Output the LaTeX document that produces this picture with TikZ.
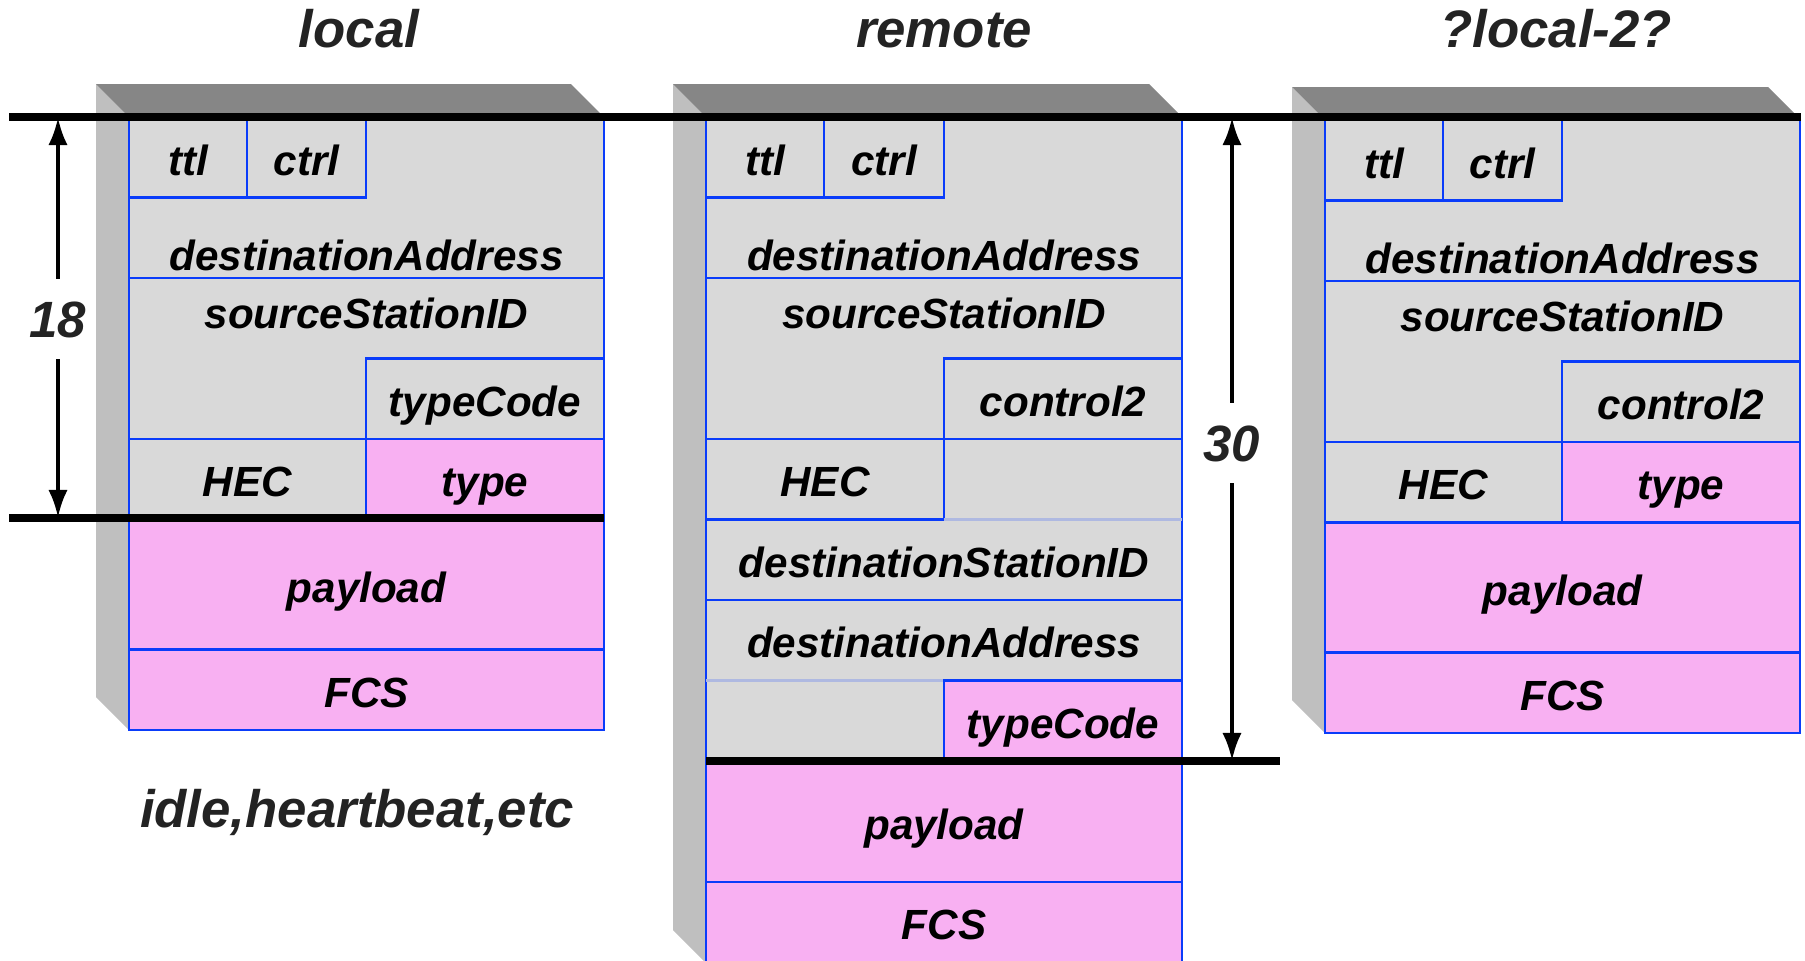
\documentclass[tikz,border=0pt]{standalone}
\usepackage{fontspec}
\setmainfont{Liberation Sans}
\usetikzlibrary{arrows.meta}
\definecolor{cellgray}{RGB}{217,217,217}
\definecolor{cellpink}{RGB}{248,176,242}
\definecolor{edgeblue}{RGB}{10,60,250}
\definecolor{faintblue}{RGB}{175,185,225}
\definecolor{topgray}{RGB}{134,134,134}
\definecolor{sidegray}{RGB}{191,191,191}
\definecolor{inkgray}{RGB}{35,35,35}
\tikzset{
  fld/.style={font=\fontsize{12}{14}\selectfont\bfseries\itshape, text height=8.6pt, text depth=0pt, yshift=-0.8pt},
  hdr/.style={font=\fontsize{15}{18}\selectfont\bfseries\itshape, text=inkgray, text height=10.7pt, text depth=0pt},
  num/.style={font=\fontsize{14.5}{17}\selectfont\bfseries\itshape, text=inkgray, text height=10.4pt, text depth=0pt, minimum height=0.8cm, outer sep=0pt},
  gcell/.style={draw=edgeblue, fill=cellgray, line width=0.7pt},
  pcell/.style={draw=edgeblue, fill=cellpink, line width=0.7pt},
  bl/.style={draw=edgeblue, line width=0.7pt},
  rule/.style={line width=2.2pt},
  dim/.style={line width=1.3pt, ->}
}
\begin{document}
\begin{tikzpicture}[x=0.01cm, y=-0.01cm, >={Latex[length=8pt,width=5.5pt]}]
\useasboundingbox (0,0) rectangle (1805,960);
% 3d frames
\foreach \xa/\xb/\ya/\yb in {129/604/117/730, 706/1182/117/963, 1325/1801/120/733}
{
    \fill[sidegray] (\xa,\ya)--(\xa-33,\ya-33)--(\xa-33,\yb-33)--(\xa,\yb)--cycle;
    \fill[topgray] (\xa,\ya)--(\xa-33,\ya-33)--(\xb-33,\ya-33)--(\xb,\ya)--cycle;
}
% local and ?local-2?
\foreach \sx/\sy/\code/\p in {0/0/typeCode/l, 1196/3/control2/r}
{
\begin{scope}[shift={(\sx,\sy)}]
    \draw[gcell] (129,117) rectangle (604,519.5);
    \draw[gcell] (129,117) rectangle (247,197.5);
    \draw[gcell] (247,117) rectangle (366,197.5);
    \draw[bl] (129,278)--(604,278);
    \draw[gcell] (366,358.5) rectangle (604,439);
    \draw[gcell] (129,439) rectangle (366,519.5);
    \draw[pcell] (366,439) rectangle (604,519.5);
    \draw[pcell] (129,519.5) rectangle (604,649.5);
    \draw[pcell] (129,649.5) rectangle (604,730);
    \node[fld] (\p-ttl) at (188,158) {ttl};
    \node[fld] (\p-ctrl) at (306.5,158) {ctrl};
    \node[fld] (\p-dst) at (366.5,253) {destinationAddress};
    \node[fld] (\p-src) at (366.5,311) {sourceStationID};
    \node[fld] (\p-code) at (485,399) {\code};
    \node[fld] (\p-hec) at (247.5,479) {HEC};
    \node[fld] (\p-type) at (485,479) {type};
    \node[fld] (\p-pay) at (366.5,584.5) {payload};
    \node[fld] (\p-fcs) at (366.5,690) {FCS};
\end{scope}
}
% remote
\draw[gcell] (706,117) rectangle (1182,761);
\draw[gcell] (706,117) rectangle (824,197.5);
\draw[gcell] (824,117) rectangle (944,197.5);
\draw[bl] (706,278)--(1182,278);
\draw[gcell] (944,358.5) rectangle (1182,439);
\draw[gcell] (706,439) rectangle (944,519.5);
\draw[faintblue, line width=0.7pt] (944,519.5)--(1182,519.5);
\draw[bl] (706,600)--(1182,600);
\draw[faintblue, line width=0.7pt] (706,680.5)--(944,680.5);
\draw[pcell] (944,680.5) rectangle (1182,761);
\draw[pcell] (706,761) rectangle (1182,882);
\draw[pcell] (706,882) rectangle (1182,963);
\node[fld] (m-ttl) at (765,158) {ttl};
\node[fld] (m-ctrl) at (884,158) {ctrl};
\node[fld] (m-dst) at (944,253) {destinationAddress};
\node[fld] (m-src) at (944,311) {sourceStationID};
\node[fld] (m-ctl2) at (1063,399) {control2};
\node[fld] (m-hec) at (825,479) {HEC};
\node[fld] (m-dstid) at (944,560) {destinationStationID};
\node[fld] (m-dst2) at (944,640) {destinationAddress};
\node[fld] (m-code) at (1063,721) {typeCode};
\node[fld] (m-pay) at (944,821.5) {payload};
\node[fld] (m-fcs) at (944,922) {FCS};
% titles
\node[hdr] (t-local) at (359,29) {local};
\node[hdr] (t-remote) at (944,29) {remote};
\node[hdr] (t-local2) at (1556,29) {?local-2?};
\node[hdr] (t-idle) at (357,809) {idle,heartbeat,etc};
% header lines
\draw[rule] (9,117)--(1801,117);
\draw[rule] (9,518)--(604,518);
\draw[rule] (706,761)--(1280,761);
% sizes
\coordinate (d18a) at (58,117);
\coordinate (d18b) at (58,518);
\node[num] (n18) at (58,319) {18};
\draw[dim] (n18)--(d18a);
\draw[dim] (n18)--(d18b);
\coordinate (d30a) at (1232,117);
\coordinate (d30b) at (1232,761);
\node[num] (n30) at (1232,443) {30};
\draw[dim] (n30)--(d30a);
\draw[dim] (n30)--(d30b);
\end{tikzpicture}
\end{document}
